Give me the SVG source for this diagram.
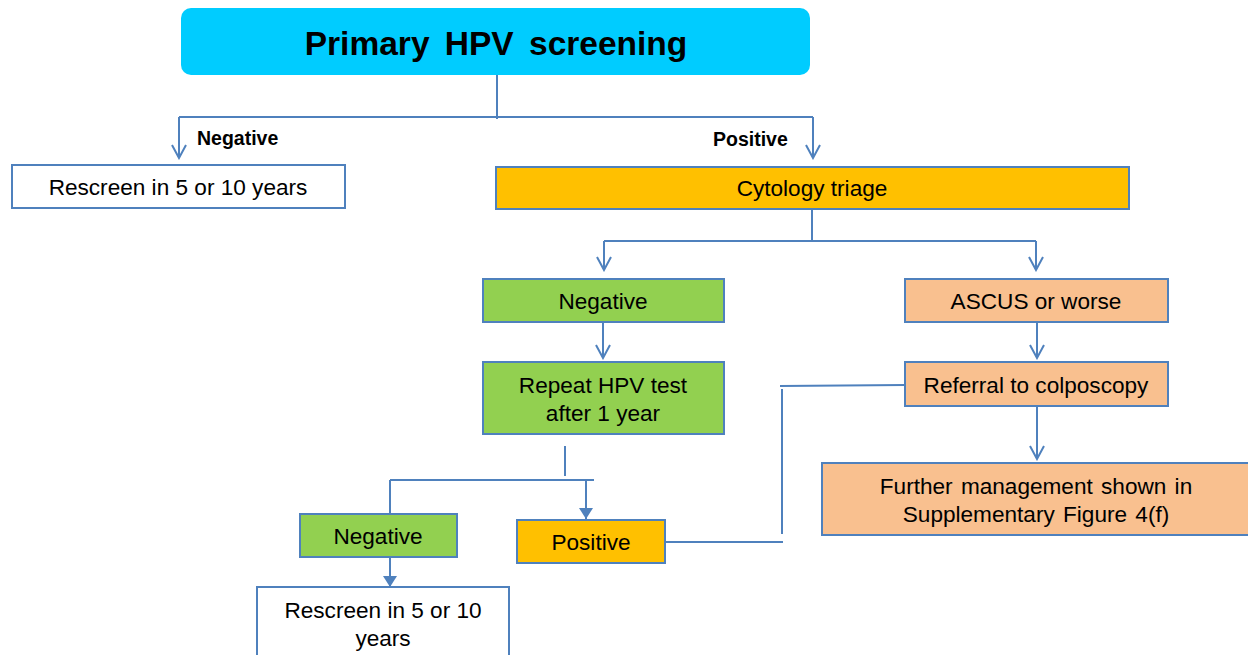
<svg xmlns="http://www.w3.org/2000/svg" width="1248" height="655" viewBox="0 0 1248 655">
<defs>
<marker id="open" markerWidth="16" markerHeight="16" refX="8" refY="14" markerUnits="userSpaceOnUse" viewBox="0 0 16 16">
<path d="M1,1 L8,14 L15,1" fill="none" stroke="#4F81BD" stroke-width="2"/>
</marker>
<marker id="filled" markerWidth="14" markerHeight="12" refX="7" refY="11" markerUnits="userSpaceOnUse" viewBox="0 0 14 12">
<path d="M0,0 L14,0 L7,11 Z" fill="#4F81BD"/>
</marker>
<style>
.box{stroke:#4F81BD;stroke-width:2}
.t{font-family:"Liberation Sans",Arial,sans-serif;font-size:22.6px;fill:#000;text-anchor:middle}
.lbl{font-family:"Liberation Sans",Arial,sans-serif;font-size:19.5px;font-weight:bold;fill:#000}
.c{fill:none;stroke:#4F81BD;stroke-width:2}
</style>
</defs>
<rect width="1248" height="655" fill="#fff"/>
<g id="connectors">
<path class="c" d="M497,75 V119"/>
<path class="c" d="M179,117 H813"/>
<path class="c" d="M179,117 V158" marker-end="url(#open)"/>
<path class="c" d="M813,117 V158" marker-end="url(#open)"/>
<path class="c" d="M812,209 V241"/>
<path class="c" d="M604,241 H1036"/>
<path class="c" d="M604,241 V270" marker-end="url(#open)"/>
<path class="c" d="M1036,241 V270" marker-end="url(#open)"/>
<path class="c" d="M603,322 V358" marker-end="url(#open)"/>
<path class="c" d="M1037,322 V358" marker-end="url(#open)"/>
<path class="c" d="M1037,406 V459" marker-end="url(#open)"/>
<path class="c" d="M565,446 V476"/>
<path class="c" d="M390,480 H594"/>
<path class="c" d="M390,480 V514"/>
<path class="c" d="M586,480 V519" marker-end="url(#filled)"/>
<path class="c" d="M390,557 V587" marker-end="url(#filled)"/>
<path class="c" d="M905,385 L780,386"/>
<path class="c" d="M782,389 V534"/>
<path class="c" d="M665,542 H783"/>
<text class="lbl" x="197" y="145">Negative</text>
<text class="lbl" x="713" y="146">Positive</text>
</g>
<g id="title">
<rect x="181" y="8" width="629" height="67" rx="10" ry="10" fill="#00CCFF"/>
<text x="496" y="55" font-family="'Liberation Sans',Arial,sans-serif" font-size="33.5" font-weight="bold" text-anchor="middle" word-spacing="6">Primary HPV screening</text>
</g>
<g id="rescreen1">
<rect class="box" x="12" y="165" width="333" height="43" fill="#fff"/>
<text class="t" x="178" y="195">Rescreen in 5 or 10 years</text>
</g>
<g id="cytology">
<rect class="box" x="496" y="167" width="633" height="42" fill="#FFC000"/>
<text class="t" x="812" y="196">Cytology triage</text>
</g>
<g id="negative1">
<rect class="box" x="483" y="279" width="241" height="43" fill="#92D050"/>
<text class="t" x="603" y="309">Negative</text>
</g>
<g id="ascus">
<rect class="box" x="905" y="279" width="263" height="43" fill="#F9C08F"/>
<text class="t" x="1036" y="309">ASCUS or worse</text>
</g>
<g id="repeat">
<rect class="box" x="483" y="362" width="241" height="72" fill="#92D050"/>
<text class="t" x="603" y="393">Repeat HPV test</text>
<text class="t" x="603" y="421">after 1 year</text>
</g>
<g id="referral">
<rect class="box" x="905" y="362" width="263" height="44" fill="#F9C08F"/>
<text class="t" x="1036" y="393">Referral to colposcopy</text>
</g>
<g id="further">
<rect class="box" x="822" y="463" width="428" height="72" fill="#F9C08F"/>
<text class="t" x="1036" y="494" word-spacing="2">Further management shown in</text>
<text class="t" x="1036" y="522" word-spacing="2">Supplementary Figure 4(f)</text>
</g>
<g id="negative2">
<rect class="box" x="300" y="514" width="157" height="43" fill="#92D050"/>
<text class="t" x="378" y="544">Negative</text>
</g>
<g id="positive2">
<rect class="box" x="517" y="520" width="148" height="43" fill="#FFC000"/>
<text class="t" x="591" y="550">Positive</text>
</g>
<g id="rescreen2">
<rect class="box" x="257" y="587" width="252" height="80" fill="#fff"/>
<text class="t" x="383" y="618">Rescreen in 5 or 10</text>
<text class="t" x="383" y="646">years</text>
</g>
</svg>
